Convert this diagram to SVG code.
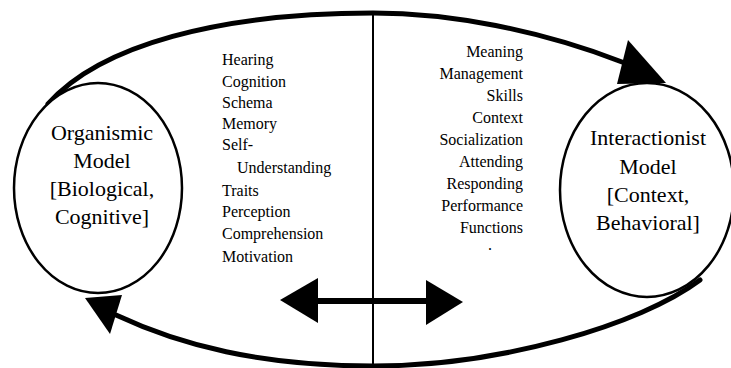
<svg xmlns="http://www.w3.org/2000/svg" width="731" height="368" viewBox="0 0 731 368">
<style>
.bg{fill:#fff}
.loop{fill:none;stroke:#000;stroke-width:5;stroke-linecap:round}
.div{fill:none;stroke:#000;stroke-width:2}
.shaft{fill:none;stroke:#000;stroke-width:6}
.head{fill:#000;stroke:none}
.node{fill:#fff;stroke:#000;stroke-width:2.5}
.lbl{font-family:"Liberation Serif",serif;font-size:22px;fill:#000;text-anchor:middle}
.item{font-family:"Liberation Serif",serif;font-size:16px;fill:#000}
.r{text-anchor:end}
</style>
<rect class="bg" x="0" y="0" width="731" height="368"/>
<g id="connectors">
  <line class="div" x1="373" y1="13" x2="373" y2="368"/>
  <path class="loop" d="M48,104 C100,45 220,13 373,13 C450,13 540,30 622,62"/>
  <polygon class="head" points="628,40 617,84 666,83"/>
  <path class="loop" d="M700,280 C640,325 500,366 373,366 C260,366 180,345 116,315"/>
  <polygon class="head" points="85,298 122,295 110,334"/>
  <line class="shaft" x1="316" y1="301" x2="428" y2="301"/>
  <polygon class="head" points="280,300 318,278 318,323"/>
  <polygon class="head" points="463,302 426,280 426,325"/>
</g>
<g id="node-organismic">
  <ellipse class="node" cx="98" cy="188" rx="84" ry="105"/>
  <text class="lbl" x="102" y="140">Organismic</text>
  <text class="lbl" x="102" y="168">Model</text>
  <text class="lbl" x="102" y="196">[Biological,</text>
  <text class="lbl" x="102" y="224">Cognitive]</text>
</g>
<g id="node-interactionist">
  <ellipse class="node" cx="647" cy="190" rx="87" ry="107"/>
  <text class="lbl" x="648" y="145">Interactionist</text>
  <text class="lbl" x="648" y="174">Model</text>
  <text class="lbl" x="648" y="202">[Context,</text>
  <text class="lbl" x="648" y="230">Behavioral]</text>
</g>
<g id="list-organismic">
  <text class="item" x="222" y="65">Hearing</text>
  <text class="item" x="222" y="87">Cognition</text>
  <text class="item" x="222" y="108">Schema</text>
  <text class="item" x="222" y="129">Memory</text>
  <text class="item" x="222" y="150">Self-</text>
  <text class="item" x="237" y="173">Understanding</text>
  <text class="item" x="222" y="196">Traits</text>
  <text class="item" x="222" y="217">Perception</text>
  <text class="item" x="222" y="239">Comprehension</text>
  <text class="item" x="222" y="262">Motivation</text>
</g>
<g id="list-interactionist">
  <text class="item r" x="523" y="57">Meaning</text>
  <text class="item r" x="523" y="79">Management</text>
  <text class="item r" x="523" y="101">Skills</text>
  <text class="item r" x="523" y="123">Context</text>
  <text class="item r" x="523" y="145">Socialization</text>
  <text class="item r" x="523" y="167">Attending</text>
  <text class="item r" x="523" y="189">Responding</text>
  <text class="item r" x="523" y="211">Performance</text>
  <text class="item r" x="523" y="233">Functions</text>
  <text class="item" x="488" y="250">.</text>
</g>
</svg>
